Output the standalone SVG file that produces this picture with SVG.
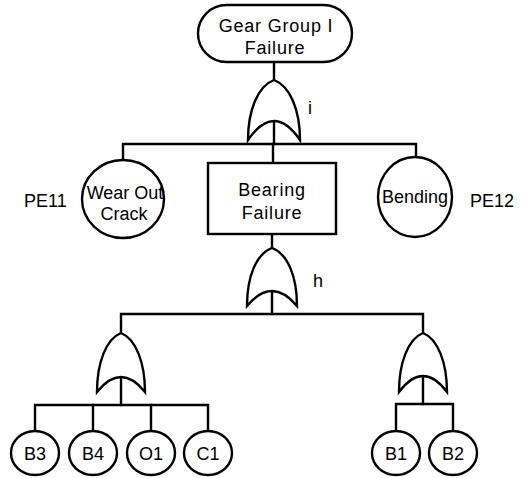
<svg xmlns="http://www.w3.org/2000/svg" width="532" height="478" viewBox="0 0 532 478">
  <style>
    .shape { fill: #fff; stroke: #000; stroke-width: 2.4; }
    .wire { fill: none; stroke: #000; stroke-width: 2.4; stroke-linecap: square; }
    .label { font-family: "Liberation Sans", Arial, sans-serif; font-size: 18px; fill: #000; text-anchor: middle; }
    .wide { letter-spacing: 0.8px; }
    .side { font-family: "Liberation Sans", Arial, sans-serif; font-size: 18px; fill: #000; }
  </style>
  <rect width="532" height="478" fill="#fff"/>

  <!-- connectors -->
  <g id="connectors" class="wire">
    <path d="M274 62 V80"/>
    <path d="M274 121 V144"/>
    <path d="M123 160 V144 H416 V157"/>
    <path d="M273 144 V163"/>
    <path d="M272 234 V248"/>
    <path d="M272 291 V314"/>
    <path d="M121 333 V314 H423 V333"/>
    <path d="M121 377 V405"/>
    <path d="M35 431 V405 H208 V431"/>
    <path d="M93 405 V431"/>
    <path d="M151 405 V431"/>
    <path d="M423 376 V404"/>
    <path d="M396 431 V404 H453 V431"/>
  </g>

  <!-- top event -->
  <g id="top-event">
    <rect class="shape" x="198" y="5" width="154" height="57" rx="28.5"/>
    <text class="label wide" x="276" y="32">Gear Group I</text>
    <text class="label wide" x="275" y="54">Failure</text>
  </g>

  <!-- OR gate i -->
  <g id="gate-i">
    <path class="shape" d="M248 140 C248 110 258 86 274 80 C290 86 300 110 300 140 Q274 102 248 140 Z"/>
    <text class="side" x="308" y="114">i</text>
  </g>

  <g id="pe11">
    <ellipse class="shape" cx="123" cy="199" rx="41" ry="39"/>
    <text class="label" x="125" y="199">Wear Out</text>
    <text class="label" x="124" y="220">Crack</text>
    <text class="side" x="24" y="207">PE11</text>
  </g>

  <g id="bearing-failure">
    <rect class="shape" x="208" y="163" width="128" height="71"/>
    <text class="label wide" x="272" y="196">Bearing</text>
    <text class="label wide" x="272" y="219">Failure</text>
  </g>

  <g id="pe12">
    <ellipse class="shape" cx="415" cy="197" rx="37" ry="40"/>
    <text class="label" x="415" y="203">Bending</text>
    <text class="side" x="470" y="207">PE12</text>
  </g>

  <!-- OR gate h -->
  <g id="gate-h">
    <path class="shape" d="M247 306 C247 277 256 254 272 248 C288 254 297 277 297 306 Q272 276 247 306 Z"/>
    <text class="side" x="313" y="287">h</text>
  </g>

  <!-- lower left OR gate -->
  <g id="gate-left">
    <path class="shape" d="M97 392 C97 363 106 339 121 333 C136 339 145 363 145 392 Q121 362 97 392 Z"/>
  </g>

  <!-- lower right OR gate -->
  <g id="gate-right">
    <path class="shape" d="M399 392 C399 363 408 339 423 333 C438 339 447 363 447 392 Q423 360 399 392 Z"/>
  </g>

  <g id="b3">
    <ellipse class="shape" cx="35" cy="453" rx="24" ry="22"/>
    <text class="label" x="35" y="460">B3</text>
  </g>
  <g id="b4">
    <ellipse class="shape" cx="93" cy="453" rx="24" ry="22"/>
    <text class="label" x="93" y="460">B4</text>
  </g>
  <g id="o1">
    <ellipse class="shape" cx="151" cy="453" rx="24" ry="22"/>
    <text class="label" x="151" y="460">O1</text>
  </g>
  <g id="c1">
    <ellipse class="shape" cx="208" cy="453" rx="24" ry="22"/>
    <text class="label" x="208" y="460">C1</text>
  </g>
  <g id="b1">
    <ellipse class="shape" cx="396" cy="453" rx="24" ry="22"/>
    <text class="label" x="396" y="460">B1</text>
  </g>
  <g id="b2">
    <ellipse class="shape" cx="453" cy="453" rx="24" ry="22"/>
    <text class="label" x="453" y="460">B2</text>
  </g>
</svg>
